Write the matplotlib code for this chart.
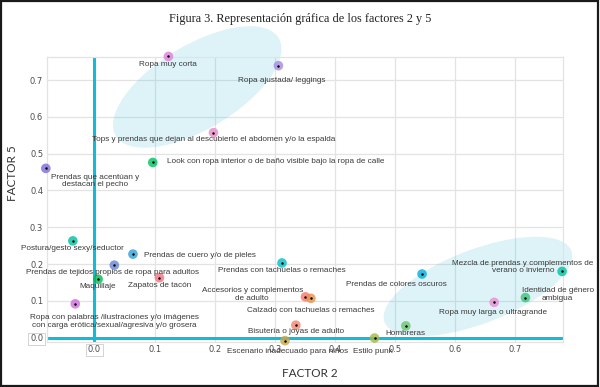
import matplotlib.pyplot as plt
from matplotlib.patches import Ellipse, Rectangle
from matplotlib.transforms import ScaledTranslation

# factor loadings
labels = [
    "Ropa muy corta",
    "Ropa ajustada/ leggings",
    "Tops y prendas que dejan al descubierto el abdomen y/o la espalda",
    "Look con ropa interior o de baño visible bajo la ropa de calle",
    "Prendas que acentúan y\ndestacan el pecho",
    "Postura/gesto sexy/seductor",
    "Prendas de cuero y/o de pieles",
    "Prendas de tejidos propios de ropa para adultos",
    "Maquillaje",
    "Zapatos de tacón",
    "Ropa con palabras /ilustraciones y/o imágenes\ncon carga erótica/sexual/agresiva y/o grosera",
    "Prendas con tachuelas o remaches",
    "Accesorios y complementos\nde adulto",
    "Calzado con tachuelas o remaches",
    "Bisutería o joyas de adulto",
    "Escenario inadecuado para niños",
    "Estilo punk",
    "Hombreras",
    "Prendas de colores oscuros",
    "Ropa muy larga o ultragrande",
    "Identidad de género\nambigua",
    "Mezcla de prendas y complementos de\nverano o invierno",
]
factor2 = [0.123, 0.306, 0.198, 0.097, -0.081, -0.036, 0.064, 0.033, 0.006, 0.108, -0.032,
           0.312, 0.351, 0.360, 0.335, 0.317, 0.466, 0.518, 0.545, 0.665, 0.717, 0.778]
factor5 = [0.764, 0.739, 0.557, 0.476, 0.460, 0.263, 0.227, 0.197, 0.159, 0.163, 0.092,
           0.203, 0.111, 0.107, 0.034, -0.008, -0.001, 0.032, 0.173, 0.096, 0.109, 0.180]

colors = ["#E07FD5", "#A58AE0", "#E88BC8", "#00C15F", "#7B6BDB", "#00C0A0", "#2D9FD8",
          "#6685D6", "#00B954", "#F7707F", "#D070DB", "#00BFC4", "#F8766D", "#E8904C",
          "#F3846E", "#C9A847", "#A3B84C", "#6CC46E", "#00AEDB", "#E98ED3", "#38C47A",
          "#00C3A0"]

# label offsets from the point, in pixels (dx, dy) and alignment
offsets = [(0, -8), (3, -15.3), (0, -7.3), (14, 0.6), (49.3, -12.7), (0, -8), (11.3, -1.3),
           (-1.8, -7.4), (-0.3, -7.4), (0, -7.6), (39.2, -17.5), (-0.3, -7.3), (-53.2, 2.3),
           (-0.2, -12.4), (0.3, -6.4), (2.7, -10.6), (-1.7, -13.3), (0, -7.3), (-25.6, -10.7),
           (-0.7, -9.7), (32.3, 3), (-39, 4.5)]
left_aligned = {3, 6}

# highlighted groups: centre (data), semi-axes (px), angle
groups = [((0.171, 0.681), 95, 42, 31), ((0.638, 0.139), 100, 37, 21)]

cyan = "#12BCD9"

fig = plt.figure(figsize=(6, 3.87), dpi=100)
ax = fig.add_axes([46.7 / 600, 1 - 341.7 / 387, 516 / 600, 285 / 387])
ax.set_xlim(-0.0795, 0.779)
ax.set_ylim(-0.0109, 0.7633)

ax.set_xticks([0.0, 0.1, 0.2, 0.3, 0.4, 0.5, 0.6, 0.7])
ax.set_yticks([0.0, 0.1, 0.2, 0.3, 0.4, 0.5, 0.6, 0.7])
ax.set_xticklabels(["0.0", "0.1", "0.2", "0.3", "0.4", "0.5", "0.6", "0.7"])
ax.set_yticklabels(["0.0", "0.1", "0.2", "0.3", "0.4", "0.5", "0.6", "0.7"])
ax.tick_params(length=0, labelsize=6, labelcolor="#4D4D4D", pad=2.5)
for lab in (ax.get_xticklabels()[0], ax.get_yticklabels()[0]):
    lab.set_bbox(dict(facecolor="white", edgecolor="#CCCCCC", lw=0.6, pad=1.2))
ax.grid(color="#E3E3E3", lw=0.9)
ax.set_axisbelow(True)
for s in ax.spines.values():
    s.set_color("#E3E3E3")
    s.set_linewidth(0.9)

for (cx, cy), a, b, ang in groups:
    e = Ellipse((0, 0), 2 * a, 2 * b, angle=ang, facecolor="#2DB8D6", alpha=0.16,
                edgecolor="none", transform=ScaledTranslation(cx, cy, ax.transData),
                zorder=1, clip_on=False)
    ax.add_patch(e)

ax.axvline(0, color=cyan, lw=2.2, zorder=2)
ax.axhline(0, color=cyan, lw=2.2, zorder=2)

ax.scatter(factor2, factor5, s=48, c=colors, alpha=0.8, edgecolors="none", zorder=3, clip_on=False)
ax.scatter(factor2, factor5, s=0.6, c="black", zorder=4, clip_on=False)

for i, txt in enumerate(labels):
    ha = "left" if i in left_aligned else "center"
    ax.annotate(txt, (factor2[i], factor5[i]), xytext=offsets[i], textcoords="offset pixels",
                ha=ha, va="center", multialignment="center", fontsize=5.9, color="#3A3A3A",
                family="Liberation Sans", linespacing=1.1, annotation_clip=False, zorder=5)

fig.text(0.5, 1 - 19 / 387, "Figura 3. Representación gráfica de los factores 2 y 5",
         ha="center", va="center", family="Liberation Serif", fontsize=8.8, color="#222222")
fig.text(310 / 600, 1 - 373.3 / 387, "FACTOR 2", ha="center", va="center",
         family="Lato", fontsize=8.5, color="#333333")
fig.text(13 / 600, 1 - 173 / 387, "FACTOR 5", ha="center", va="center", rotation=90,
         family="Lato", fontsize=8.5, color="#333333")

fig.patches.append(Rectangle((0.002, 0.003), 0.995, 0.994, transform=fig.transFigure,
                             fill=False, edgecolor="#1A1A1A", lw=1.6))

fig.savefig("out.png", dpi=100)
